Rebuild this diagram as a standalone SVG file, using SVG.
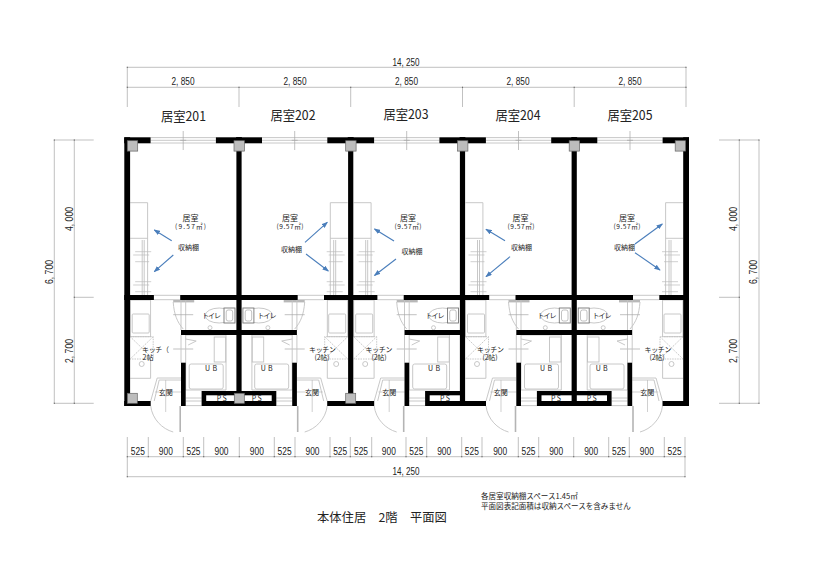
<svg xmlns="http://www.w3.org/2000/svg" width="823" height="582" viewBox="0 0 823 582">
<style>
text{font-family:"Noto Sans CJK JP","Liberation Sans",sans-serif;fill:#222;text-anchor:middle}
.n{font-family:"Liberation Sans",sans-serif;font-size:10px}
.r{font-size:13px}
.s{font-size:7px}
.t{font-size:7px}
.k{font-size:8px}
.p{font-size:6.6px}
.g{fill:none;stroke:#c2c2c2;stroke-width:.9}
.d{fill:none;stroke:#a6a6a6;stroke-width:.7}
.l{fill:none;stroke:#bcbcbc;stroke-width:.7}
.o{fill:none;stroke:#555;stroke-width:1.1;stroke-linecap:square}
.w{fill:#000}
.c{fill:#bdbdbd;stroke:#666;stroke-width:.7}
.a{fill:none;stroke:#4a7ebb;stroke-width:1.1;marker-end:url(#ah)}
.b{text-anchor:start}
</style>
<defs>
<marker id="ah" viewBox="0 0 8 6" refX="7" refY="3" markerWidth="6.5" markerHeight="5" markerUnits="userSpaceOnUse" orient="auto"><path d="M0 0L8 3L0 6Z" fill="#4a7ebb"/></marker>
<g id="plan">
<path class="g" d="M23.4 137.6H88.7M23.4 140.3H88.7M23.4 143H88.7M26.7 295.3H53M26.7 299.7H53"/>
<path class="d" d="M56 131V150M53 140.3H59"/>
<path class="g" d="M3 202.7H20.4V295M3 238.3H20.4M15 240V295M17 240V295"/>
<path class="l" d="M8 251.7H24M6 255H22M8 261.7H22M8 281.7H24M6 285H22M8 291.7H24"/>
<rect class="g" x="3" y="300" width="20.4" height="36.7"/>
<rect class="g" x="5" y="314" width="17" height="19" rx="1"/>
<path class="g" d="M3 336.7H26V359H3M3 336.7L26 359M26 336.7L3 359" stroke-dasharray="1.5 1"/>
<path class="g" d="M23.4 359V378.3M3 378.3H23.4"/>
<circle class="g" cx="14.5" cy="364" r="2.5"/>
<path class="g" d="M53.8 378H30L23.5 401M53.8 380H32L27 401"/>
<path class="l" d="M38.5 380V412M27.8 392H32M45 392H54"/>
<path class="g" d="M23.5 406C25 419 35 429 46 432"/>
<path d="M53 406V432" fill="none" stroke="#b4b4b4" stroke-width="1.6"/>
<rect x="46" y="300" width="21" height="2.4" fill="#b8b8b8"/>
<path class="g" d="M46 302C47 315 50 322 56 329M53.8 300V330M58.5 300V330"/>
<path class="d" d="M46 314.7H66M46 349H66"/>
<ellipse class="g" cx="92" cy="315.5" rx="14" ry="7.5"/>
<rect x="96.8" y="308" width="11" height="15" fill="#fff" stroke="#777" stroke-width=".9"/>
<rect x="99" y="310" width="6.5" height="11" rx="2" fill="none" stroke="#999" stroke-width=".6"/>
<circle class="g" cx="82.8" cy="327.7" r="2"/>
<path class="g" d="M53.8 335V362.7M58.5 335H98.8V390H58.5V335M58.5 339L69 341L61 345"/>
<rect class="g" x="87" y="337" width="11.5" height="25"/>
<rect class="g" x="62" y="364" width="34" height="25" rx="2"/>
<path class="g" d="M58.5 398H74.4M58.5 401H74.4M58.5 405.6H74.4"/>
<rect class="w" x="-3" y="137.3" width="26.4" height="6"/>
<rect class="w" x="88.7" y="137.3" width="26" height="6"/>
<rect class="w" x="-3" y="295" width="29.7" height="5"/>
<rect class="w" x="53" y="295" width="58.7" height="5"/>
<rect class="w" x="53.8" y="330" width="58" height="5"/>
<rect class="w" x="53.8" y="362.7" width="4.7" height="43.3"/>
<rect class="w" x="-3" y="401" width="26.5" height="5"/>
<rect class="w" x="74.4" y="391" width="37.3" height="15"/>
<rect x="79" y="395.3" width="32.7" height="5.7" fill="#fff"/>
</g>
</defs>
<rect width="823" height="582" fill="#fff"/>
<g id="unit-201">
<use href="#plan" transform="translate(127.2 0)"/>
<text class="r" x="183.5" y="121" textLength="45" lengthAdjust="spacingAndGlyphs">居室201</text>
<text class="k" x="190.5" y="221">居室</text>
<text class="p" x="190.5" y="229" textLength="31">(9.57㎡)</text>
<text class="s" x="188.5" y="250" textLength="21">収納棚</text>
<text class="t" x="211.5" y="318" textLength="19">トイレ</text>
<text class="t" x="155.5" y="352" textLength="27">キッチ（</text>
<text class="t" x="148" y="360">2帖</text>
<text class="t" x="211" y="370.5" textLength="12">UB</text>
<text class="t" x="165.7" y="394.5">玄関</text>
<text class="t" x="221.7" y="400.8" textLength="10">PS</text>
</g>
<g id="unit-202">
<use href="#plan" transform="translate(350.7 0) scale(-1 1)"/>
<text class="r" x="293" y="120" textLength="45" lengthAdjust="spacingAndGlyphs">居室202</text>
<text class="k" x="290" y="221">居室</text>
<text class="p" x="290" y="229" textLength="27">(9.57㎡)</text>
<text class="s" x="291.5" y="252" textLength="21">収納棚</text>
<text class="t" x="267" y="318" textLength="19">トイレ</text>
<text class="t" x="322.5" y="352" textLength="27">キッチン</text>
<text class="t" x="322" y="360" textLength="15">(2帖)</text>
<text class="t" x="266.7" y="370.5" textLength="12">UB</text>
<text class="t" x="312" y="394.5">玄関</text>
<text class="t" x="256.7" y="400.8" textLength="10">PS</text>
</g>
<g id="unit-203">
<use href="#plan" transform="translate(350.7 0)"/>
<text class="r" x="406" y="119" textLength="45" lengthAdjust="spacingAndGlyphs">居室203</text>
<text class="k" x="408" y="221">居室</text>
<text class="p" x="408" y="229" textLength="27">(9.57㎡)</text>
<text class="s" x="412" y="254" textLength="21">収納棚</text>
<text class="t" x="435" y="318" textLength="19">トイレ</text>
<text class="t" x="379" y="352" textLength="27">キッチン</text>
<text class="t" x="379" y="360" textLength="15">(2帖)</text>
<text class="t" x="434" y="370.5" textLength="12">UB</text>
<text class="t" x="389.3" y="394.5">玄関</text>
<text class="t" x="445" y="400.8" textLength="10">PS</text>
</g>
<g id="unit-204">
<use href="#plan" transform="translate(462.5 0)"/>
<text class="r" x="518" y="120" textLength="45" lengthAdjust="spacingAndGlyphs">居室204</text>
<text class="k" x="520.5" y="221">居室</text>
<text class="p" x="521" y="229" textLength="27">(9.57㎡)</text>
<text class="s" x="521.5" y="250" textLength="21">収納棚</text>
<text class="t" x="547" y="318" textLength="19">トイレ</text>
<text class="t" x="490.5" y="352" textLength="27">キッチン</text>
<text class="t" x="490" y="360" textLength="15">(2帖)</text>
<text class="t" x="546" y="370.5" textLength="12">UB</text>
<text class="t" x="500.7" y="394.5">玄関</text>
<text class="t" x="556" y="400.8" textLength="10">PS</text>
</g>
<g id="unit-205">
<use href="#plan" transform="translate(686 0) scale(-1 1)"/>
<text class="r" x="630" y="120" textLength="45" lengthAdjust="spacingAndGlyphs">居室205</text>
<text class="k" x="627" y="221">居室</text>
<text class="p" x="627" y="229" textLength="27">(9.57㎡)</text>
<text class="s" x="624.5" y="250" textLength="21">収納棚</text>
<text class="t" x="602" y="318" textLength="19">トイレ</text>
<text class="t" x="658" y="352" textLength="27">キッチン</text>
<text class="t" x="657" y="360" textLength="15">(2帖)</text>
<text class="t" x="601.7" y="370.5" textLength="12">UB</text>
<text class="t" x="647.3" y="394.5">玄関</text>
<text class="t" x="591.7" y="400.8" textLength="10">PS</text>
</g>
<g id="walls">
<rect class="w" x="124.3" y="137.3" width="5.8" height="268.7"/>
<rect class="w" x="236.4" y="137.3" width="5.2" height="268.7"/>
<rect class="w" x="348.1" y="137.3" width="5.2" height="268.7"/>
<rect class="w" x="459.9" y="137.3" width="5.2" height="268.7"/>
<rect class="w" x="571.6" y="137.3" width="5.2" height="268.7"/>
<rect class="w" x="683.2" y="137.3" width="5.8" height="268.7"/>
<rect class="c" x="127.3" y="140.7" width="10.4" height="10.4"/>
<rect class="c" x="234" y="140.7" width="10.4" height="10.4"/>
<rect class="c" x="345.7" y="140.7" width="10.4" height="10.4"/>
<rect class="c" x="457.5" y="140.7" width="10.4" height="10.4"/>
<rect class="c" x="569.2" y="140.7" width="10.4" height="10.4"/>
<rect class="c" x="675.2" y="140.7" width="10.4" height="10.4"/>
<rect class="c" x="127.3" y="393.3" width="10" height="10"/>
<rect class="c" x="234.3" y="393.3" width="10" height="10"/>
<rect class="c" x="345.7" y="393.3" width="10" height="10"/>
</g>
<g id="connectors">
<path class="d" d="M127.3 67.3H686M127.3 87.3H686M127.3 67.3V107M239 87.3V107M350.7 87.3V107M462.5 87.3V107M574.2 87.3V107M686 67.3V107"/>
<path class="d" d="M127.3 456.7H685M127.3 476.7H685M127.3 437V476.7M148.3 437V456.7M183.3 437V456.7M203.7 437V456.7M239.3 437V456.7M274.3 437V456.7M295 437V456.7M330 437V456.7M350.3 437V456.7M371.7 437V456.7M406 437V456.7M426.7 437V456.7M461.7 437V456.7M482 437V456.7M518.3 437V456.7M538.7 437V456.7M573.7 437V456.7M608.7 437V456.7M629.3 437V456.7M664.3 437V456.7M685 437V476.7"/>
<path class="d" d="M54.3 140H93.7M74.3 297.3H93.7M54.3 403.3H93.7M54.3 140V403.3M74.3 140V403.3"/>
<path class="d" d="M719 140H759M719 297.3H739.3M719 403.3H759M739.3 140V403.3M759 140V403.3"/>
<path class="o" d="M127.3 67.3h.01M686 67.3h.01M127.3 87.3h.01M239 87.3h.01M350.7 87.3h.01M462.5 87.3h.01M574.2 87.3h.01M686 87.3h.01M127.3 456.7h.01M148.3 456.7h.01M183.3 456.7h.01M203.7 456.7h.01M239.3 456.7h.01M274.3 456.7h.01M295 456.7h.01M330 456.7h.01M350.3 456.7h.01M371.7 456.7h.01M406 456.7h.01M426.7 456.7h.01M461.7 456.7h.01M482 456.7h.01M518.3 456.7h.01M538.7 456.7h.01M573.7 456.7h.01M608.7 456.7h.01M629.3 456.7h.01M664.3 456.7h.01M685 456.7h.01M127.3 476.7h.01M685 476.7h.01M54.3 140h.01M74.3 140h.01M74.3 297.3h.01M54.3 403.3h.01M74.3 403.3h.01M739.3 140h.01M759 140h.01M739.3 297.3h.01M739.3 403.3h.01M759 403.3h.01"/>
<path class="a" d="M171.7 240.7L154.3 230"/>
<path class="a" d="M173.3 255L154.3 271.7"/>
<path class="a" d="M305 242.3L327.3 222.3"/>
<path class="a" d="M306 254L328.3 271"/>
<path class="a" d="M394 241L374.5 229"/>
<path class="a" d="M396 259L374.5 275.5"/>
<path class="a" d="M505 240.7L486 229.3"/>
<path class="a" d="M510 256.7L486 276.7"/>
<path class="a" d="M635 244L662.3 224"/>
<path class="a" d="M635 252.7L660 270"/>
</g>
<g id="dimensions">
<text class="n" x="406" y="66" textLength="27" lengthAdjust="spacingAndGlyphs">14, 250</text>
<text class="n" x="183" y="85" textLength="23" lengthAdjust="spacingAndGlyphs">2, 850</text>
<text class="n" x="295" y="85" textLength="23" lengthAdjust="spacingAndGlyphs">2, 850</text>
<text class="n" x="406.5" y="85" textLength="23" lengthAdjust="spacingAndGlyphs">2, 850</text>
<text class="n" x="518" y="85" textLength="23" lengthAdjust="spacingAndGlyphs">2, 850</text>
<text class="n" x="630" y="85" textLength="23" lengthAdjust="spacingAndGlyphs">2, 850</text>
<text class="n" x="137.8" y="455" textLength="14" lengthAdjust="spacingAndGlyphs">525</text>
<text class="n" x="165.8" y="455" textLength="14" lengthAdjust="spacingAndGlyphs">900</text>
<text class="n" x="193.5" y="455" textLength="14" lengthAdjust="spacingAndGlyphs">525</text>
<text class="n" x="221.5" y="455" textLength="14" lengthAdjust="spacingAndGlyphs">900</text>
<text class="n" x="256.8" y="455" textLength="14" lengthAdjust="spacingAndGlyphs">900</text>
<text class="n" x="284.6" y="455" textLength="14" lengthAdjust="spacingAndGlyphs">525</text>
<text class="n" x="312.5" y="455" textLength="14" lengthAdjust="spacingAndGlyphs">900</text>
<text class="n" x="340.2" y="455" textLength="14" lengthAdjust="spacingAndGlyphs">525</text>
<text class="n" x="361" y="455" textLength="14" lengthAdjust="spacingAndGlyphs">525</text>
<text class="n" x="388.8" y="455" textLength="14" lengthAdjust="spacingAndGlyphs">900</text>
<text class="n" x="416.3" y="455" textLength="14" lengthAdjust="spacingAndGlyphs">525</text>
<text class="n" x="444.2" y="455" textLength="14" lengthAdjust="spacingAndGlyphs">900</text>
<text class="n" x="471.8" y="455" textLength="14" lengthAdjust="spacingAndGlyphs">525</text>
<text class="n" x="500.2" y="455" textLength="14" lengthAdjust="spacingAndGlyphs">900</text>
<text class="n" x="528.5" y="455" textLength="14" lengthAdjust="spacingAndGlyphs">525</text>
<text class="n" x="556.2" y="455" textLength="14" lengthAdjust="spacingAndGlyphs">900</text>
<text class="n" x="591.2" y="455" textLength="14" lengthAdjust="spacingAndGlyphs">900</text>
<text class="n" x="619" y="455" textLength="14" lengthAdjust="spacingAndGlyphs">525</text>
<text class="n" x="646.8" y="455" textLength="14" lengthAdjust="spacingAndGlyphs">900</text>
<text class="n" x="674.6" y="455" textLength="14" lengthAdjust="spacingAndGlyphs">525</text>
<text class="n" x="406" y="474.5" textLength="27" lengthAdjust="spacingAndGlyphs">14, 250</text>
<text class="n" transform="translate(72.5 219) rotate(-90)" textLength="24" lengthAdjust="spacingAndGlyphs">4, 000</text>
<text class="n" transform="translate(72.5 351) rotate(-90)" textLength="24" lengthAdjust="spacingAndGlyphs">2, 700</text>
<text class="n" transform="translate(53 272) rotate(-90)" textLength="24" lengthAdjust="spacingAndGlyphs">6, 700</text>
<text class="n" transform="translate(737 219) rotate(-90)" textLength="24" lengthAdjust="spacingAndGlyphs">4, 000</text>
<text class="n" transform="translate(737 351) rotate(-90)" textLength="24" lengthAdjust="spacingAndGlyphs">2, 700</text>
<text class="n" transform="translate(757 272) rotate(-90)" textLength="24" lengthAdjust="spacingAndGlyphs">6, 700</text>
</g>
<g id="notes">
<text class="b" x="317" y="521.5" font-size="12.3">本体住居　2階　平面図</text>
<text class="b" x="481" y="498.5" font-size="7.55">各居室収納棚スペース1.45㎡</text>
<text class="b" x="481" y="508.5" font-size="7.55">平面図表記面積は収納スペースを含みません</text>
</g>
</svg>
